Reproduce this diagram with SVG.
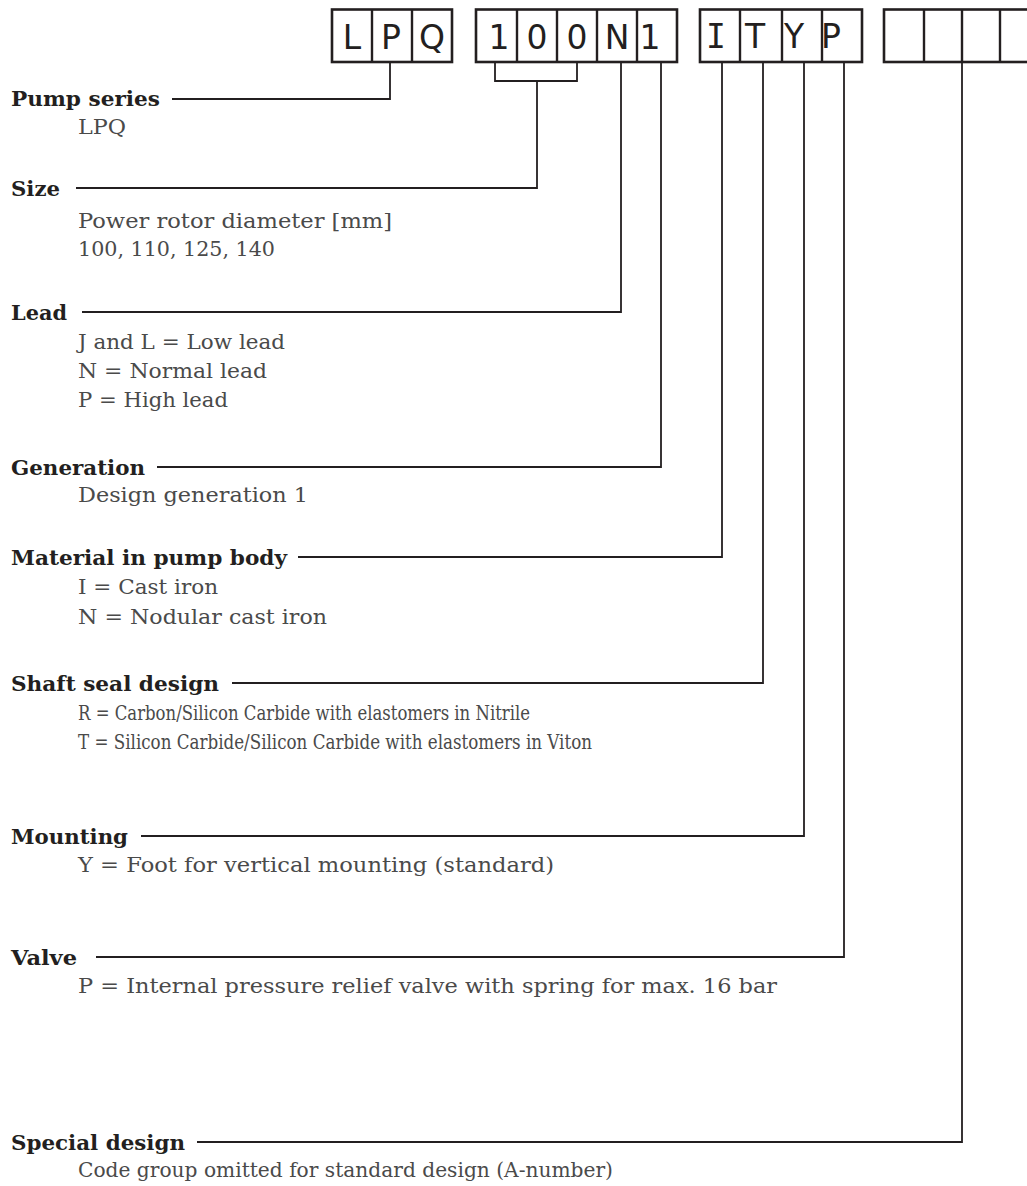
<svg xmlns="http://www.w3.org/2000/svg" width="1027" height="1186" viewBox="0 0 1027 1186">
<style>
.bg{fill:#ffffff}
.box{fill:none;stroke:#231f20;stroke-width:2.6}
.div{stroke:#231f20;stroke-width:2.4}
.ch{font-family:"DejaVu Sans",sans-serif;font-size:33px;fill:#231f20;text-anchor:middle}
.chm{font-family:"DejaVu Sans Mono",monospace;font-size:33px;fill:#231f20;text-anchor:middle}
.con{fill:none;stroke:#231f20;stroke-width:1.8}
.h{font-family:"DejaVu Serif",serif;font-weight:bold;font-size:21px;fill:#231f20}
.d{font-family:"DejaVu Serif",serif;font-size:20.5px;fill:#4a4a4a}
</style>
<rect class="bg" x="0" y="0" width="1027" height="1186"/>

<g id="code-boxes">
  <g id="box-lpq">
    <rect class="box" x="332" y="9.5" width="120" height="52.5"/>
    <line class="div" x1="372" y1="9.5" x2="372" y2="62"/>
    <line class="div" x1="412" y1="9.5" x2="412" y2="62"/>
    <text class="ch" x="352" y="49">L</text>
    <text class="ch" x="391" y="49">P</text>
    <text class="ch" x="432" y="49">Q</text>
  </g>
  <g id="box-100n1">
    <rect class="box" x="476" y="9.5" width="201" height="52.5"/>
    <line class="div" x1="517" y1="9.5" x2="517" y2="62"/>
    <line class="div" x1="557" y1="9.5" x2="557" y2="62"/>
    <line class="div" x1="597" y1="9.5" x2="597" y2="62"/>
    <line class="div" x1="637" y1="9.5" x2="637" y2="62"/>
    <text class="ch" x="499" y="49">1</text>
    <text class="ch" x="537" y="49">0</text>
    <text class="ch" x="577" y="49">0</text>
    <text class="ch" x="617" y="49">N</text>
    <text class="ch" x="650" y="49">1</text>
  </g>
  <g id="box-ityp">
    <rect class="box" x="700" y="9.5" width="162" height="52.5"/>
    <line class="div" x1="740" y1="9.5" x2="740" y2="62"/>
    <line class="div" x1="782" y1="9.5" x2="782" y2="62"/>
    <line class="div" x1="822" y1="9.5" x2="822" y2="62"/>
    <text class="chm" x="716" y="48">I</text>
    <text class="ch" x="755" y="48">T</text>
    <text class="ch" x="794" y="48">Y</text>
    <text class="ch" x="831" y="48">P</text>
  </g>
  <g id="box-special">
    <rect class="box" x="884" y="9.5" width="170" height="52.5"/>
    <line class="div" x1="924" y1="9.5" x2="924" y2="62"/>
    <line class="div" x1="962" y1="9.5" x2="962" y2="62"/>
    <line class="div" x1="1000" y1="9.5" x2="1000" y2="62"/>
  </g>
</g>

<g id="connectors">
  <path class="con" d="M390,62 V99 H172"/>
  <path class="con" d="M495,62 V81 H577 V62"/>
  <path class="con" d="M537,81 V188 H76"/>
  <path class="con" d="M621,62 V312 H82"/>
  <path class="con" d="M661,62 V467 H157"/>
  <path class="con" d="M722,62 V557 H298"/>
  <path class="con" d="M763,62 V683 H232"/>
  <path class="con" d="M804,62 V836 H141"/>
  <path class="con" d="M844,62 V957 H96"/>
  <path class="con" d="M962,62 V1142 H197"/>
</g>

<g id="pump-series">
  <text class="h" x="11" y="106" textLength="149" lengthAdjust="spacingAndGlyphs">Pump series</text>
  <text class="d" x="78" y="134" textLength="48" lengthAdjust="spacingAndGlyphs">LPQ</text>
</g>
<g id="size">
  <text class="h" x="11" y="196" textLength="49" lengthAdjust="spacingAndGlyphs">Size</text>
  <text class="d" x="78" y="228" textLength="314" lengthAdjust="spacingAndGlyphs">Power rotor diameter [mm]</text>
  <text class="d" x="78" y="256" textLength="197" lengthAdjust="spacingAndGlyphs">100, 110, 125, 140</text>
</g>
<g id="lead">
  <text class="h" x="11" y="320" textLength="56" lengthAdjust="spacingAndGlyphs">Lead</text>
  <text class="d" x="78" y="349" textLength="207" lengthAdjust="spacingAndGlyphs">J and L = Low lead</text>
  <text class="d" x="78" y="378" textLength="189" lengthAdjust="spacingAndGlyphs">N = Normal lead</text>
  <text class="d" x="78" y="407" textLength="150" lengthAdjust="spacingAndGlyphs">P = High lead</text>
</g>
<g id="generation">
  <text class="h" x="11" y="475" textLength="134" lengthAdjust="spacingAndGlyphs">Generation</text>
  <text class="d" x="78" y="502" textLength="230" lengthAdjust="spacingAndGlyphs">Design generation 1</text>
</g>
<g id="material">
  <text class="h" x="11" y="565" textLength="276" lengthAdjust="spacingAndGlyphs">Material in pump body</text>
  <text class="d" x="78" y="594" textLength="140" lengthAdjust="spacingAndGlyphs">I = Cast iron</text>
  <text class="d" x="78" y="624" textLength="249" lengthAdjust="spacingAndGlyphs">N = Nodular cast iron</text>
</g>
<g id="shaft-seal">
  <text class="h" x="11" y="691" textLength="208" lengthAdjust="spacingAndGlyphs">Shaft seal design</text>
  <text class="d" x="78" y="720" textLength="452" lengthAdjust="spacingAndGlyphs">R = Carbon/Silicon Carbide with elastomers in Nitrile</text>
  <text class="d" x="78" y="749" textLength="514" lengthAdjust="spacingAndGlyphs">T = Silicon Carbide/Silicon Carbide with elastomers in Viton</text>
</g>
<g id="mounting">
  <text class="h" x="11" y="844" textLength="117" lengthAdjust="spacingAndGlyphs">Mounting</text>
  <text class="d" x="78" y="872" textLength="476" lengthAdjust="spacingAndGlyphs">Y = Foot for vertical mounting (standard)</text>
</g>
<g id="valve">
  <text class="h" x="11" y="965" textLength="66" lengthAdjust="spacingAndGlyphs">Valve</text>
  <text class="d" x="78" y="993" textLength="699" lengthAdjust="spacingAndGlyphs">P = Internal pressure relief valve with spring for max. 16 bar</text>
</g>
<g id="special-design">
  <text class="h" x="11" y="1150" textLength="174" lengthAdjust="spacingAndGlyphs">Special design</text>
  <text class="d" x="78" y="1177" textLength="535" lengthAdjust="spacingAndGlyphs">Code group omitted for standard design (A-number)</text>
</g>
</svg>
